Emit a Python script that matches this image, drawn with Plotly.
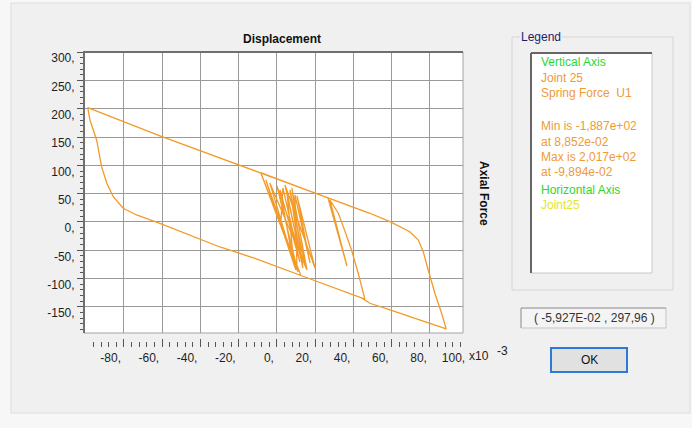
import plotly.graph_objects as go

W, H = 692, 428

# ---- data (displacement in x10^-3, axial force) ----
disp = [2.0, 3.1, 12.0, 1.6, 8.9, 5.2, 12.0, 6.8, 14.6, 0.0, 10.5, 9.4, 17.3, 10.5, 19.9,
        4.2, 13.6, 7.8, 15.7, -3.7, 9.9,
        -5.8, 11.0, -7.8, 12.5, -8.5, 26.7, 36.6, 27.7, 32.1, 34.7, 39.0, 42.5, 46.0,
        16.4, -11.5, -29.8, -61.2, -73.4, -80.4, -85.6, -89.0, -91.7, -94.3, -97.8, -98.94,
        -61.2, -29.8, -11.5, 48.6, 59.1, 69.5, 73.9, 76.5, 79.1, 82.6, 86.1, 88.52,
        59.1, 48.6, 44.0]
force = [-5.0, 60.0, -70.6, 56.5, -75.9, 53.0, -58.2, 56.5, -75.9, 63.5, -81.2, 47.7, -72.3, 45.9, -81.2,
         65.3, -81.2, 60.0, -84.7, 68.9, -84.7,
         74.1, -88.2, 81.2, -94.0, 87.0, 42.4, -77.6, 38.8, 15.4, -8.2, -49.4, -90.5, -136.0,
         -99.3, -64.1, -44.1, -2.3, 12.4, 24.2, 44.7, 68.3, 97.6, 144.7, 180.0, 201.7,
         152.0, 113.0, 89.0, 15.4, 0.6, -17.1, -31.8, -52.4, -84.7, -125.8, -161.1, -188.7,
         -155.3, -143.4, -133.5]

y_tick_vals = [-150, -100, -50, 0, 50, 100, 150, 200, 250, 300]
y_tick_text = ["-150,", "-100,", "-50,", "0,", "50,", "100,", "150,", "200,", "250,", "300,"]
x_tick_vals = [-80, -60, -40, -20, 0, 20, 40, 60, 80, 100]
x_tick_text = ["-80,", "-60,", "-40,", "-20,", "0,", "20,", "40,", "60,", "80,", "100,"]
x_grid_vals = [-80, -60, -40, -20, 0, 20, 40, 60, 80]
x_minor_vals = [v for v in range(-96, 97, 4) if v % 20 != 0]

x_range = [-100.9, 97.3]
y_range = [-195.9, 300]

title_text = "Displacement"
y_title = "Axial Force"
legend_title = "Legend"
legend_lines = ["Vertical Axis", "Joint 25", "Spring Force\u00a0 U1", "",
                "Min is -1,887e+02", "at 8,852e-02", "Max is 2,017e+02", "at -9,894e-02",
                "Horizontal Axis", "Joint25"]
legend_colors = ["#2ed62e", "#ee9a38", "#ee9a38", "#ee9a38",
                 "#ee9a38", "#ee9a38", "#ee9a38", "#ee9a38",
                 "#2ed62e", "#e6e622"]
legend_y = [62, 77.5, 93, 109, 126, 141.5, 157, 172, 189.5, 205]
coord_text = "( -5,927E-02 , 297,96 )"

FONT = "Liberation Sans, Arial, sans-serif"


def fx(px):
    return px / W


def fy(py):
    return 1 - py / H


# plot frame in px
L, R, T, B = 84, 463, 52, 333
px_per_unit = (R - L) / (x_range[1] - x_range[0])
x3_right = 473
x3_range = [x_range[0], x_range[0] + (x3_right - L) / px_per_unit]

fig = go.Figure()
fig.add_trace(go.Scatter(x=disp, y=force, mode="lines",
                         line=dict(color="#f39a28", width=1.3),
                         hoverinfo="skip", showlegend=False))
fig.add_trace(go.Scatter(x=[None], y=[None], xaxis="x2", yaxis="y",
                         hoverinfo="skip", showlegend=False))
fig.add_trace(go.Scatter(x=[None], y=[None], xaxis="x3", yaxis="y3",
                         hoverinfo="skip", showlegend=False))

grid = "#9a9a9a"
fig.update_layout(
    width=W, height=H,
    margin=dict(l=0, r=0, t=0, b=0, autoexpand=False),
    paper_bgcolor="#f7f7f7",
    plot_bgcolor="rgba(0,0,0,0)",
    font=dict(family=FONT, size=12, color="#1e1e1e"),
    hovermode=False,
    showlegend=False,
    xaxis=dict(domain=[fx(L), fx(R)], range=x_range, autorange=False,
               tickmode="array", tickvals=x_grid_vals, showticklabels=False, ticks="",
               showgrid=True, gridcolor=grid, gridwidth=1, zeroline=False, showline=False),
    xaxis2=dict(overlaying="x", anchor="free", position=fy(347), side="bottom",
                range=x_range, autorange=False, tickmode="array", tickvals=x_grid_vals,
                ticks="inside", ticklen=8, tickwidth=1, tickcolor="#555",
                showticklabels=False, showgrid=False, zeroline=False, showline=False,
                minor=dict(tickmode="array", tickvals=x_minor_vals, ticks="inside",
                           ticklen=5, tickwidth=1, tickcolor="#555", showgrid=False)),
    xaxis3=dict(domain=[fx(L), fx(x3_right)], anchor="y3", side="bottom",
                range=x3_range, autorange=False, tickmode="array",
                tickvals=x_tick_vals, ticktext=x_tick_text, ticks="",
                ticklabelposition="outside left", ticklabelshift=-3,
                tickfont=dict(size=12, color="#1e1e1e"),
                showgrid=False, zeroline=False, showline=False),
    yaxis=dict(domain=[fy(B), fy(T)], range=y_range, autorange=False,
               tickmode="array", tickvals=y_tick_vals, ticktext=y_tick_text,
               ticks="outside", ticklen=6, tickwidth=1, tickcolor="#555",
               ticklabelshift=6, tickfont=dict(size=12, color="#1e1e1e"),
               showgrid=True, gridcolor=grid, gridwidth=1, zeroline=False, showline=False,
               minor=dict(dtick=10, tick0=0, ticks="outside", ticklen=3,
                          tickwidth=1, tickcolor="#555", showgrid=False)),
    yaxis3=dict(domain=[fy(349), fy(348)], range=[0, 1], visible=False),
)

shapes = []


def rect(x0, y0, x1, y1, fill=None, line="#000", lw=1, layer="below"):
    shapes.append(dict(type="rect", xref="paper", yref="paper",
                       x0=fx(x0), y0=fy(y1), x1=fx(x1), y1=fy(y0),
                       fillcolor=fill if fill else "rgba(0,0,0,0)",
                       line=dict(color=line, width=lw), layer=layer))


def hline(x0, x1, y, color, lw, layer="above"):
    shapes.append(dict(type="line", xref="paper", yref="paper",
                       x0=fx(x0), x1=fx(x1), y0=fy(y), y1=fy(y),
                       line=dict(color=color, width=lw), layer=layer))


def vline(x, y0, y1, color, lw, layer="above"):
    shapes.append(dict(type="line", xref="paper", yref="paper",
                       x0=fx(x), x1=fx(x), y0=fy(y0), y1=fy(y1),
                       line=dict(color=color, width=lw), layer=layer))


# window panel
rect(11, 3, 690, 413, fill="#f0f0f0", line="#dcdcdc", lw=1)
# plot background
rect(L, T, R, B, fill="#ffffff", line="rgba(0,0,0,0)", lw=0)
# plot border
rect(L, T, R, B, line="#a3a3a3", lw=1, layer="above")
hline(L - 1, R, T, "#6f6f6f", 2)
vline(L, T - 1, B, "#6f6f6f", 2)

# legend group box
rect(512, 37, 673, 290, line="#d6d6d6", lw=1)
rect(531, 53, 652, 273, fill="#ffffff", line="#c8c8c8", lw=1)
hline(531, 652, 53, "#666666", 2, layer="below")
vline(531, 53, 273, "#666666", 2, layer="below")

# coordinate box
rect(521, 308, 666, 328, fill="#f4f4f4", line="#c4c4c4", lw=1)
hline(521, 666, 308, "#a0a0a0", 1, layer="below")
vline(521, 308, 328, "#a0a0a0", 1, layer="below")

# OK button
rect(551, 348, 627, 372, fill="#e1e1e1", line="#2b7bd6", lw=2)

fig.update_layout(shapes=shapes)

ann = []


def text(x, y, s, color="#1e1e1e", size=12, xanchor="center", bold=False, angle=0, bg=None):
    d = dict(xref="paper", yref="paper", x=fx(x), y=fy(y),
             text=f"<b>{s}</b>" if bold else s, showarrow=False,
             xanchor=xanchor, yanchor="middle", textangle=angle,
             font=dict(family=FONT, size=size, color=color), borderpad=0)
    if bg:
        d["bgcolor"] = bg
    ann.append(d)


text(282, 39, title_text, color="#111", bold=True)
text(484, 193, y_title, color="#111", bold=True, angle=90)
text(468, 356, "x10", xanchor="left")
text(496, 351, "-3", xanchor="left")
text(520, 37, legend_title, color="#1c1c6e", xanchor="left", bg="#f0f0f0")
for s, c, yy in zip(legend_lines, legend_colors, legend_y):
    if s:
        text(540, yy, s, color=c, xanchor="left")
text(594, 318, coord_text, color="#333")
text(589, 360, "OK", color="#111")

fig.update_layout(annotations=ann)

fig.write_html("out.html")
